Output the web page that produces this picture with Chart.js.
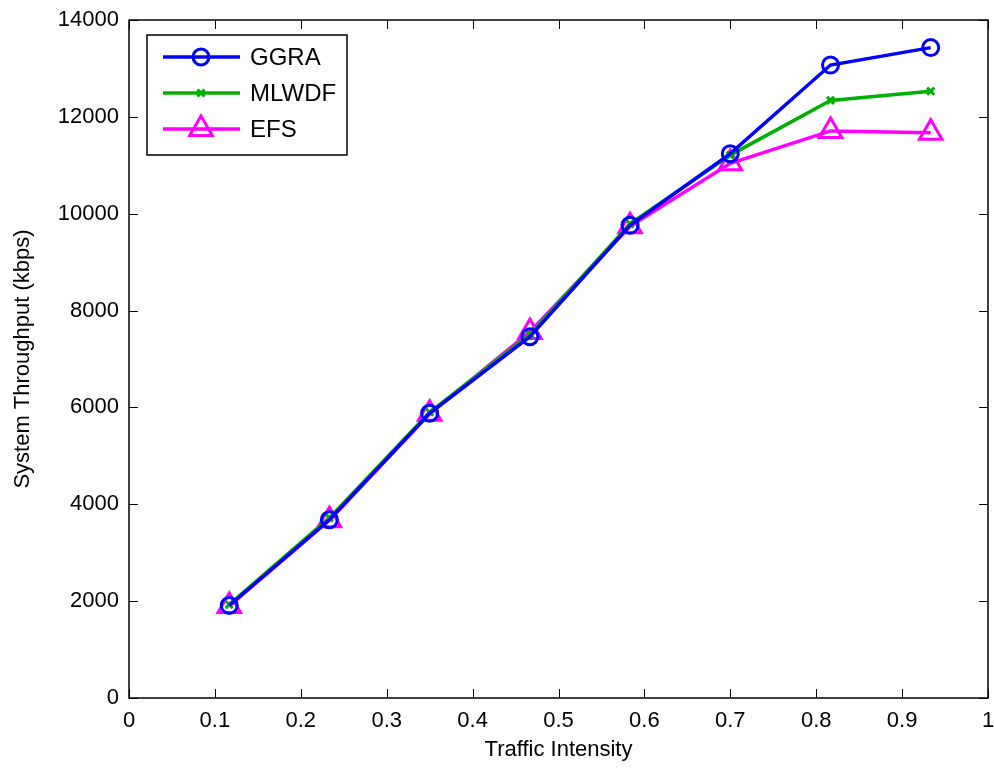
<!DOCTYPE html>
<html>
<head>
<meta charset="utf-8">
<script src="https://cdn.jsdelivr.net/npm/chart.js@4/dist/chart.umd.min.js"></script>
<style>
html,body{margin:0;padding:0;background:#fff;}
#wrap{width:994px;height:769px;position:relative;}
</style>
</head>
<body>
<div id="wrap"><canvas id="c" width="994" height="769"></canvas></div>
<script>
const trafficIntensity = [0.1167, 0.2333, 0.35, 0.4667, 0.5833, 0.7, 0.8167, 0.9333];
const ggra  = [1910, 3680, 5880, 7460, 9760, 11240, 13070, 13430];
const mlwdf = [1930, 3720, 5900, 7510, 9790, 11210, 12340, 12530];
const efs   = [1900, 3670, 5870, 7560, 9740, 11040, 11710, 11670];
const seriesNames = ['GGRA', 'MLWDF', 'EFS'];
const xTicks = [0, 0.1, 0.2, 0.3, 0.4, 0.5, 0.6, 0.7, 0.8, 0.9, 1];
const yTicks = [0, 2000, 4000, 6000, 8000, 10000, 12000, 14000];

const FONT = '"Liberation Sans", Arial, sans-serif';
const toPts = ys => trafficIntensity.map((x, i) => ({x: x, y: ys[i]}));

const styles = [
  {color: '#0000ff', pointStyle: 'circle', radius: 8},
  {color: '#00b000', pointStyle: 'crossRot', radius: 5},
  {color: '#ff00ff', pointStyle: 'triangle', radius: 13}
];
const values = [ggra, mlwdf, efs];

const datasets = values.map((v, i) => ({
  label: seriesNames[i],
  data: toPts(v),
  showLine: true,
  borderColor: styles[i].color,
  backgroundColor: 'rgba(0,0,0,0)',
  borderWidth: 3.5,
  pointStyle: styles[i].pointStyle,
  pointRadius: styles[i].radius,
  pointBorderWidth: 3,
  pointBorderColor: styles[i].color,
  pointBackgroundColor: 'rgba(0,0,0,0)',
  pointHoverRadius: styles[i].radius,
  tension: 0
}));

const framePlugin = {
  id: 'frame',
  afterDatasetsDraw(chart) {
    const ctx = chart.ctx, a = chart.chartArea;
    const xs = chart.scales.x, ys = chart.scales.y;
    ctx.save();
    ctx.strokeStyle = '#000';
    ctx.lineWidth = 1.5;
    ctx.strokeRect(a.left, a.top, a.right - a.left, a.bottom - a.top);
    ctx.lineWidth = 1;
    const L = 9;
    ctx.beginPath();
    xTicks.forEach(t => {
      const px = Math.round(xs.getPixelForValue(t)) + 0.5;
      ctx.moveTo(px, a.bottom); ctx.lineTo(px, a.bottom - L);
      ctx.moveTo(px, a.top); ctx.lineTo(px, a.top + L);
    });
    yTicks.forEach(t => {
      const py = Math.round(ys.getPixelForValue(t)) + 0.5;
      ctx.moveTo(a.left, py); ctx.lineTo(a.left + L, py);
      ctx.moveTo(a.right, py); ctx.lineTo(a.right - L, py);
    });
    ctx.stroke();

    // legend box
    const bx = 147, by = 35, bw = 200, bh = 120;
    ctx.fillStyle = '#fff';
    ctx.fillRect(bx, by, bw, bh);
    ctx.strokeStyle = '#000';
    ctx.lineWidth = 1.5;
    ctx.strokeRect(bx, by, bw, bh);
    ctx.font = '24px ' + FONT;
    ctx.textBaseline = 'middle';
    chart.data.datasets.forEach((ds, i) => {
      const cy = by + 22 + i * 36;
      ctx.strokeStyle = ds.borderColor;
      ctx.lineWidth = 3.5;
      ctx.beginPath(); ctx.moveTo(163, cy); ctx.lineTo(240, cy); ctx.stroke();
      ctx.fillStyle = 'rgba(0,0,0,0)';
      ctx.lineWidth = 3;
      Chart.helpers.drawPoint(ctx, {
        pointStyle: ds.pointStyle, rotation: 0,
        borderWidth: 3, radius: ds.pointRadius
      }, 201, cy);
      ctx.fillStyle = '#000';
      ctx.fillText(ds.label, 250, cy + 1);
    });
    ctx.restore();
  }
};

new Chart(document.getElementById('c'), {
  type: 'scatter',
  data: {datasets: datasets},
  plugins: [framePlugin],
  options: {
    responsive: false,
    animation: false,
    devicePixelRatio: 1,
    layout: {autoPadding: false, padding: {top: 20, right: 6, left: 0, bottom: 0}},
    plugins: {legend: {display: false}, tooltip: {enabled: false}},
    scales: {
      x: {
        type: 'linear', min: 0, max: 1,
        afterBuildTicks: s => { s.ticks = xTicks.map(v => ({value: v})); },
        afterFit: s => { s.height = 71; s.paddingLeft = 0; s.paddingRight = 0; },
        grid: {display: false, drawTicks: false},
        border: {display: false},
        ticks: {color: '#000', font: {family: FONT, size: 22}, padding: 10,
                maxRotation: 0, autoSkip: false,
                callback: v => String(v)},
        title: {display: true, text: 'Traffic Intensity', color: '#000',
                font: {family: FONT, size: 22}, padding: {top: 0, bottom: 6}}
      },
      y: {
        type: 'linear', min: 0, max: 14000,
        afterBuildTicks: s => { s.ticks = yTicks.map(v => ({value: v})); },
        afterFit: s => { s.width = 129; s.paddingTop = 0; s.paddingBottom = 0; },
        grid: {display: false, drawTicks: false},
        border: {display: false},
        ticks: {color: '#000', font: {family: FONT, size: 22}, padding: 10,
                autoSkip: false, callback: v => String(v)},
        title: {display: true, text: 'System Throughput (kbps)', color: '#000',
                font: {family: FONT, size: 22}, padding: {top: 10, bottom: 0}}
      }
    }
  }
});
</script>
</body>
</html>
